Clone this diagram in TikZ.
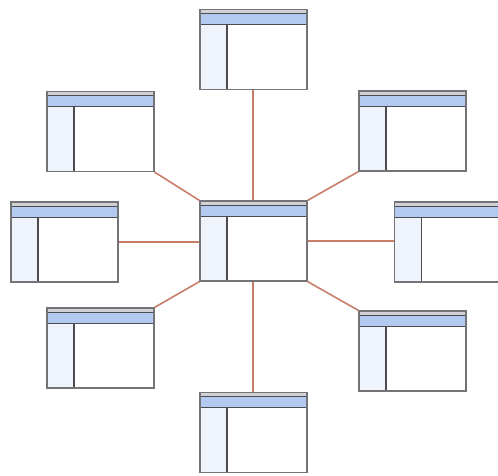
\documentclass[tikz,border=0pt]{standalone}
\definecolor{linkc}{RGB}{200,125,105}
\definecolor{bandc}{RGB}{178,202,240}
\definecolor{sidec}{RGB}{238,243,252}
\definecolor{topc}{RGB}{210,210,214}
\definecolor{edgec}{RGB}{115,115,120}
\definecolor{darkc}{RGB}{75,75,80}
\tikzset{
  win/.style={draw=edgec, line width=1.2pt, fill=white, minimum width=107pt, minimum height=80pt, inner sep=0pt,
    path picture={
      \coordinate (nw) at (path picture bounding box.north west);
      \coordinate (ne) at (path picture bounding box.north east);
      \coordinate (sw) at (path picture bounding box.south west);
      \fill[topc] (nw) rectangle ([yshift=-4pt]ne);
      \fill[bandc] ([yshift=-4pt]nw) rectangle ([yshift=-15pt]ne);
      \fill[sidec] ([yshift=-15pt]nw) rectangle ([xshift=27pt]sw);
      \draw[darkc, line width=0.9pt] ([yshift=-4pt]nw) -- ([yshift=-4pt]ne);
      \draw[darkc, line width=1pt] ([yshift=-15pt]nw) -- ([yshift=-15pt]ne);
      \draw[darkc, line width=1.3pt] ([xshift=27pt,yshift=-15pt]nw) -- ([xshift=27pt]sw);
    }},
  link/.style={draw=linkc, line width=1.6pt}
}
\begin{document}
\begin{tikzpicture}[x=1pt,y=-1pt]
\useasboundingbox (0,0) rectangle (498,475);
\node[win] (c)  at (253.5,241) {};
\node[win] (t)  at (253.5,49.5) {};
\node[win] (b)  at (253.5,432.5) {};
\node[win] (l)  at (64.5,242) {};
\node[win] (r)  at (448,242) {};
\node[win] (ul) at (100.5,131.5) {};
\node[win] (ur) at (412.5,131) {};
\node[win] (ll) at (100.5,348) {};
\node[win] (lr) at (412.5,351) {};
\coordinate (tb) at ([xshift=-0.6pt]t.south);
\coordinate (cn) at ([xshift=-0.6pt]c.north);
\coordinate (cs) at ([xshift=-0.6pt]c.south);
\coordinate (bn) at ([xshift=-0.6pt]b.north);
\draw[link] (tb) -- (cn);
\draw[link] (cs) -- (bn);
\draw[link] (l.east) -- (l.east -| c.west);
\draw[link] (c.east) -- (c.east -| r.west);
\draw[link] (ul.south east) -- (c.north west);
\draw[link] (ur.south west) -- (c.north east);
\draw[link] (ll.north east) -- (c.south west);
\draw[link] (lr.north west) -- (c.south east);
\end{tikzpicture}
\end{document}
